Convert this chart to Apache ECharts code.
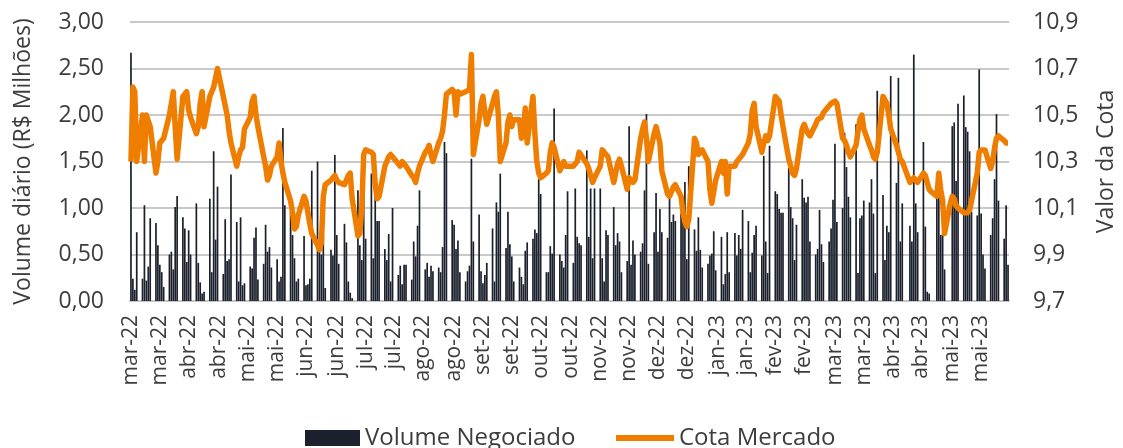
<!DOCTYPE html>
<html>
<head>
<meta charset="utf-8">
<script src="https://cdn.jsdelivr.net/npm/echarts@6/dist/echarts.min.js"></script>
<style>
  html, body { margin: 0; padding: 0; background: #fff; }
  #chart { width: 1123px; height: 448px; }
</style>
</head>
<body>
<div id="chart"></div>
<script>
  // calendar span of the axis, bars / line only on weekdays
  const startDay = Date.UTC(2022, 2, 1);
  const endDay = Date.UTC(2023, 4, 31);

  // half-month tick labels along the date axis
  const tickLabels = ['mar-22', 'mar-22', 'abr-22', 'abr-22', 'mai-22', 'mai-22', 'jun-22', 'jun-22',
    'jul-22', 'jul-22', 'ago-22', 'ago-22', 'set-22', 'set-22', 'out-22', 'out-22', 'nov-22', 'nov-22',
    'dez-22', 'dez-22', 'jan-23', 'jan-23', 'fev-23', 'fev-23', 'mar-23', 'mar-23', 'abr-23', 'abr-23',
    'mai-23', 'mai-23'];

  // volume negociado (R$ milhões), one value per weekday
  const volume = [
    // mar-22 .. 16/mai-22
    2.67, 0.24, 0.12, 0.74, 0.24, 1.03, 0.22, 0.37, 0.89, 0.84, 0.60, 0.39, 0.31, 0.15, 0.50, 0.53, 0.34, 1.01, 1.13, 0.90,
    0.78, 0.42, 0.76, 0.50, 1.05, 0.41, 0.20, 0.08, 0.10, 1.10, 0.31, 1.61, 0.66, 1.23, 0.29, 0.88, 0.43, 0.45, 1.36, 0.85,
    0.21, 0.90, 0.17, 0.19, 0.37, 0.35, 0.68, 0.79, 0.23, 0.40, 0.82, 0.53, 0.58, 0.36, 0.45,
    // 17/mai-22 .. jul-22
    0.21, 0.26, 1.86, 1.03, 0.96, 0.71, 0.46, 0.21, 0.24, 0.70, 0.17, 0.18, 0.24, 1.40, 1.50, 0.60, 0.50, 0.71, 0.14, 0.55,
    0.49, 1.57, 0.71, 0.40, 0.83, 0.63, 0.21, 0.09, 0.03, 1.19, 0.60, 0.44, 1.24, 0.67, 1.37, 0.46, 1.14, 0.86, 0.86, 0.56,
    0.44, 0.72, 0.21, 1.00, 0.28, 0.38, 0.18, 0.39, 0.39, 0.23, 0.64, 0.48, 0.81, 1.19,
    // ago-22 .. 14/out-22
    0.34, 0.41, 0.26, 0.38, 0.32, 0.36, 0.31, 0.58, 1.71, 1.59, 0.87, 0.82, 0.56, 0.65, 0.31, 0.21, 0.32, 0.38, 1.53, 0.64,
    0.93, 0.32, 0.19, 0.28, 0.41, 0.78, 0.21, 1.06, 0.96, 1.37, 0.57, 0.96, 0.61, 0.48, 0.21, 0.36, 0.26, 0.18, 0.54, 0.63,
    0.67, 0.77, 0.73, 1.31, 1.15, 0.31, 0.31, 0.59, 0.51, 2.07, 0.50, 0.43, 0.36, 0.71, 1.18,
    // 17/out-22 .. dez-22
    0.41, 1.21, 0.69, 0.62, 0.60, 1.62, 0.69, 1.21, 0.46, 1.21, 1.21, 0.46, 0.21, 0.76, 0.71, 1.01, 0.60, 0.73, 0.64, 0.31,
    0.43, 1.88, 0.39, 0.65, 0.50, 0.53, 0.62, 1.19, 2.01, 0.40, 0.74, 1.16, 0.53, 0.99, 0.74, 0.68, 1.10, 0.85, 0.93, 0.86,
    0.94, 0.91, 1.28, 0.45, 1.45, 0.77, 0.54, 0.90, 0.55, 0.36, 0.40, 0.49, 0.51, 0.75, 0.33,
    // jan-23 .. 15/mar-23
    0.69, 0.18, 0.29, 0.74, 0.31, 0.73, 0.49, 0.71, 0.56, 0.98, 0.86, 0.31, 0.52, 0.71, 0.81, 0.49, 1.56, 0.64, 0.30, 1.67,
    1.18, 1.15, 0.99, 0.95, 0.95, 1.43, 1.01, 0.89, 0.44, 0.82, 1.31, 1.11, 1.06, 1.12, 0.64, 0.50, 0.56, 0.98, 0.61, 0.42,
    0.64, 0.78, 1.09, 1.69, 0.85, 1.00, 1.81, 1.44, 1.12, 0.90, 1.90, 0.30, 0.89,
    // 16/mar-23 .. mai-23
    0.92, 1.08, 1.06, 1.31, 0.94, 0.30, 2.26, 1.14, 0.44, 0.81, 0.74, 2.42, 1.27, 2.40, 0.64, 1.05, 0.00, 0.81, 0.64, 2.65,
    1.05, 0.74, 1.71, 0.80, 0.10, 0.08, 0.00, 1.24, 1.19, 0.71, 0.72, 0.34, 0.00, 1.88, 1.92, 1.29, 2.12, 2.21, 1.87, 1.82,
    1.61, 0.96, 0.92, 2.49, 0.94, 0.50, 0.35, 0.71, 0.89, 1.31, 2.01, 1.08, 0.67, 1.03, 0.39
  ];

  // cota mercado (R$), one value per weekday
  const cota = [
    // mar-22 .. 16/mai-22
    10.30, 10.62, 10.60, 10.30, 10.50, 10.30, 10.50, 10.50, 10.45, 10.25, 10.30, 10.38, 10.38, 10.40, 10.50, 10.55, 10.60, 10.45, 10.31, 10.58,
    10.59, 10.60, 10.52, 10.49, 10.42, 10.45, 10.55, 10.60, 10.45, 10.58, 10.60, 10.62, 10.66, 10.70, 10.58, 10.58, 10.50, 10.43, 10.38, 10.28,
    10.32, 10.35, 10.36, 10.44, 10.49, 10.56, 10.58, 10.50, 10.45, 10.32, 10.28, 10.22, 10.24, 10.28, 10.32,
    // 17/mai-22 .. jul-22
    10.38, 10.30, 10.25, 10.21, 10.13, 10.08, 10.01, 10.02, 10.07, 10.15, 10.13, 10.08, 10.03, 9.99, 9.94, 9.92, 9.95, 10.15, 10.20, 10.22,
    10.22, 10.24, 10.22, 10.21, 10.20, 10.22, 10.24, 10.25, 10.14, 9.98, 9.99, 10.10, 10.33, 10.35, 10.34, 10.33, 10.20, 10.14, 10.15, 10.28,
    10.30, 10.32, 10.33, 10.33, 10.29, 10.28, 10.30, 10.29, 10.28, 10.24, 10.23, 10.21, 10.25, 10.28,
    // ago-22 .. 14/out-22
    10.34, 10.35, 10.37, 10.33, 10.30, 10.38, 10.40, 10.43, 10.50, 10.59, 10.61, 10.60, 10.50, 10.60, 10.59, 10.60, 10.60, 10.61, 10.76, 10.33,
    10.48, 10.55, 10.58, 10.51, 10.46, 10.55, 10.58, 10.60, 10.50, 10.30, 10.38, 10.47, 10.50, 10.45, 10.48, 10.48, 10.40, 10.42, 10.53, 10.38,
    10.58, 10.42, 10.30, 10.25, 10.23, 10.25, 10.26, 10.34, 10.38, 10.36, 10.26, 10.28, 10.30, 10.28, 10.28,
    // 17/out-22 .. dez-22
    10.28, 10.29, 10.30, 10.34, 10.34, 10.29, 10.27, 10.24, 10.21, 10.23, 10.28, 10.35, 10.35, 10.33, 10.32, 10.21, 10.25, 10.29, 10.31, 10.28,
    10.18, 10.23, 10.23, 10.21, 10.22, 10.40, 10.44, 10.47, 10.40, 10.30, 10.42, 10.45, 10.45, 10.38, 10.26, 10.16, 10.15, 10.17, 10.19, 10.20,
    10.15, 10.08, 10.04, 10.02, 10.05, 10.40, 10.38, 10.33, 10.34, 10.35, 10.30, 10.18, 10.12, 10.12, 10.22,
    // jan-23 .. 15/mar-23
    10.30, 10.25, 10.30, 10.16, 10.28, 10.28, 10.30, 10.31, 10.31, 10.33, 10.38, 10.42, 10.52, 10.55, 10.45, 10.34, 10.38, 10.41, 10.39, 10.41,
    10.58, 10.58, 10.56, 10.50, 10.45, 10.31, 10.28, 10.25, 10.24, 10.27, 10.44, 10.46, 10.44, 10.42, 10.41, 10.46, 10.48, 10.48, 10.49, 10.51,
    10.54, 10.55, 10.55, 10.56, 10.55, 10.40, 10.39, 10.37, 10.34, 10.32, 10.37, 10.43, 10.48,
    // 16/mar-23 .. mai-23
    10.50, 10.44, 10.37, 10.35, 10.32, 10.31, 10.34, 10.58, 10.58, 10.55, 10.50, 10.44, 10.37, 10.34, 10.31, 10.30, 10.30, 10.21, 10.21, 10.23,
    10.22, 10.21, 10.25, 10.24, 10.21, 10.18, 10.17, 10.15, 10.25, 10.18, 10.13, 9.99, 10.12, 10.15, 10.14, 10.11, 10.10, 10.08, 10.08, 10.08,
    10.09, 10.13, 10.25, 10.34, 10.35, 10.35, 10.35, 10.27, 10.30, 10.36, 10.40, 10.41, 10.39, 10.38, 10.38
  ];

  // one category per calendar day, weekends left empty
  let days = [], volData = [], cotaData = [];
  let k = 0;
  for (let t = startDay; t <= endDay; t += 86400000) {
    let d = new Date(t);
    let wd = d.getUTCDay();
    days.push(d.toISOString().slice(0, 10));
    if (wd === 0 || wd === 6) {
      volData.push(null);
      cotaData.push(null);
    } else {
      volData.push(volume[k]);
      cotaData.push(cota[k]);
      k++;
    }
  }

  // ticks spread evenly, 30 of them
  const step = days.length / tickLabels.length;
  const tickIdx = {};
  tickLabels.forEach((l, i) => { tickIdx[Math.round(i * step)] = i; });
  const isTick = (index) => tickIdx[index] !== undefined;

  const txt = '#3d3d3d';
  const font = '"Open Sans", "Noto Sans", sans-serif';
  const orange = '#ee7d00';

  let chart = echarts.init(document.getElementById('chart'));
  let option = {
    backgroundColor: '#fff',
    animation: false,
    textStyle: { fontFamily: font },
    grid: { left: 130, right: 114, top: 22, bottom: 147, outerBoundsMode: 'none' },
    // two legends so each key gets its own icon size
    legend: [{
      left: 300,
      top: 421,
      itemWidth: 55,
      itemHeight: 16,
      textStyle: { fontSize: 24, color: txt, fontFamily: font },
      data: [{ name: 'Volume Negociado', icon: 'rect' }]
    }, {
      left: 611,
      top: 421,
      itemWidth: 58,
      itemHeight: 6,
      textStyle: { fontSize: 24, color: txt, fontFamily: font },
      data: [{ name: 'Cota Mercado', icon: 'rect', itemStyle: { color: orange } }]
    }],
    xAxis: {
      type: 'category',
      data: days,
      axisLine: { lineStyle: { color: '#c6c6c6', width: 2 } },
      axisTick: { interval: isTick, length: 7, lineStyle: { color: '#c6c6c6', width: 2 } },
      axisLabel: {
        interval: isTick,
        rotate: 90,
        margin: 14,
        fontSize: 21,
        color: txt,
        fontFamily: font,
        formatter: (v, i) => tickLabels[tickIdx[i]] || ''
      },
      splitLine: { show: false }
    },
    yAxis: [{
      type: 'value',
      min: 0,
      max: 3,
      interval: 0.5,
      name: 'Volume diário (R$ Milhões)',
      nameLocation: 'middle',
      nameRotate: 90,
      nameGap: 95,
      nameTextStyle: { fontSize: 23, color: txt, fontFamily: font },
      axisLine: { show: false },
      axisTick: { show: false },
      axisLabel: { fontSize: 23, color: txt, margin: 26, fontFamily: font, formatter: v => v.toFixed(2).replace('.', ',') },
      splitLine: { lineStyle: { color: '#c9c9c9', width: 2 } }
    }, {
      type: 'value',
      min: 9.7,
      max: 10.9,
      interval: 0.1,
      name: 'Valor da Cota',
      nameLocation: 'middle',
      nameRotate: 90,
      nameGap: 86,
      nameTextStyle: { fontSize: 23, color: txt, fontFamily: font },
      axisLine: { show: false },
      axisTick: { show: false },
      axisLabel: {
        fontSize: 23, color: txt, margin: 24, fontFamily: font,
        formatter: v => (Math.round(v * 10) % 2 === 1 ? v.toFixed(1).replace('.', ',') : '')
      },
      splitLine: { show: false }
    }],
    series: [{
      name: 'Volume Negociado',
      type: 'bar',
      data: volData,
      barWidth: 1.7,
      itemStyle: { color: '#1b202c' }
    }, {
      name: 'Cota Mercado',
      type: 'line',
      yAxisIndex: 1,
      data: cotaData,
      connectNulls: true,
      symbol: 'none',
      lineStyle: { color: orange, width: 5.5, join: 'round' },
      itemStyle: { color: orange }
    }]
  };
  chart.setOption(option);
</script>
</body>
</html>
